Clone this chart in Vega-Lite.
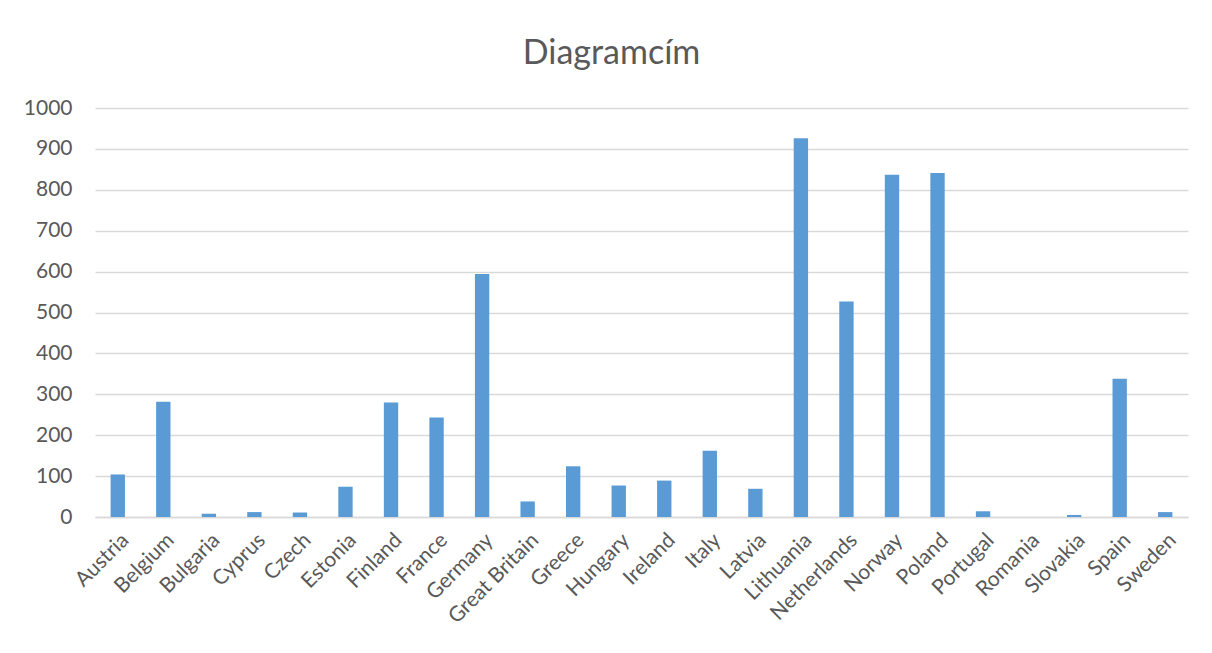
{
  "$schema": "https://vega.github.io/schema/vega-lite/v6.json",
  "autosize": {"type": "none"},
  "width": 1093,
  "height": 409,
  "padding": {"left": 95, "top": 108, "right": 24, "bottom": 136},
  "background": "white",
  "title": {
    "text": "Diagramcím",
    "font": "Lato",
    "fontSize": 34,
    "fontWeight": "normal",
    "color": "#595959",
    "anchor": "middle",
    "dx": -30,
    "offset": 26
  },
  "data": {
    "values": [
      {"country": "Austria", "value": 104},
      {"country": "Belgium", "value": 282},
      {"country": "Bulgaria", "value": 8},
      {"country": "Cyprus", "value": 12},
      {"country": "Czech", "value": 11},
      {"country": "Estonia", "value": 74},
      {"country": "Finland", "value": 280},
      {"country": "France", "value": 243},
      {"country": "Germany", "value": 594},
      {"country": "Great Britain", "value": 38},
      {"country": "Greece", "value": 124},
      {"country": "Hungary", "value": 77},
      {"country": "Ireland", "value": 89},
      {"country": "Italy", "value": 162},
      {"country": "Latvia", "value": 69},
      {"country": "Lithuania", "value": 926},
      {"country": "Netherlands", "value": 527},
      {"country": "Norway", "value": 837},
      {"country": "Poland", "value": 841},
      {"country": "Portugal", "value": 14},
      {"country": "Romania", "value": 0},
      {"country": "Slovakia", "value": 5},
      {"country": "Spain", "value": 338},
      {"country": "Sweden", "value": 12}
    ]
  },
  "mark": {"type": "bar", "color": "#5b9bd5"},
  "encoding": {
    "x": {
      "field": "country",
      "type": "nominal",
      "sort": null,
      "scale": {"paddingInner": 0.685, "paddingOuter": 0.3425},
      "axis": {
        "title": null,
        "labelAngle": -45,
        "labelFont": "Lato",
        "labelFontSize": 21,
        "labelColor": "#595959",
        "labelPadding": 12,
        "ticks": false,
        "domainColor": "#d9d9d9",
        "domainWidth": 1.5,
        "grid": false
      }
    },
    "y": {
      "field": "value",
      "type": "quantitative",
      "scale": {"domain": [0, 1000], "nice": false},
      "axis": {
        "title": null,
        "format": "d",
        "values": [0, 100, 200, 300, 400, 500, 600, 700, 800, 900, 1000],
        "labelFont": "Lato",
        "labelFontSize": 21,
        "labelColor": "#595959",
        "labelPadding": 23,
        "ticks": false,
        "domain": false,
        "grid": true,
        "gridColor": "#d9d9d9",
        "gridWidth": 1.5
      }
    }
  },
  "config": {
    "view": {"stroke": null}
  }
}
